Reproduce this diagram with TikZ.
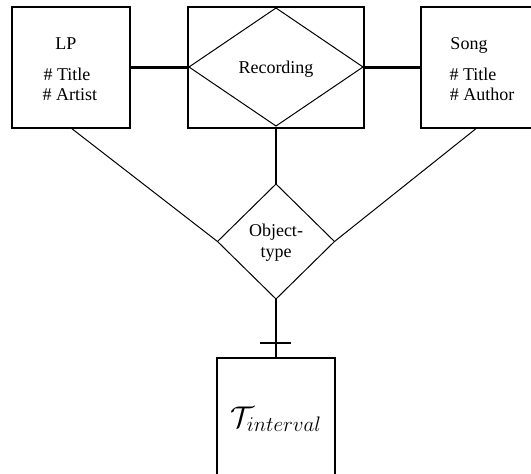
\RequirePackage{fix-cm}
\documentclass[tikz,border=0pt]{standalone}
\usepackage{fontspec}
\setmainfont{Liberation Serif}
\usetikzlibrary{shapes.geometric,calc}
\begin{document}
\begin{tikzpicture}[x=1pt,y=-1pt,
  box/.style={draw, line width=2.4pt, rectangle, inner sep=0pt, outer sep=0pt},
  dia/.style={draw, diamond, line width=1pt, inner sep=0pt, outer sep=0pt},
  txt/.style={font=\fontsize{18}{22}\selectfont, inner sep=0pt, anchor=base},
  heavy/.style={line width=2.4pt},
  mid/.style={line width=1.8pt},
  thin/.style={line width=1pt}]
\useasboundingbox (0,0) rectangle (531,474);
\clip (0,0) rectangle (531,474);
% boxes
\node[box, minimum width=118pt, minimum height=121pt] (lp) at (71,67.5) {};
\node[box, minimum width=176pt, minimum height=121pt] (recbox) at (276,67.5) {};
\node[dia, minimum width=174pt, minimum height=118pt] (recd) at (276,67) {};
\node[box, minimum width=124pt, minimum height=121pt] (song) at (483,67.5) {};
\node[dia, minimum width=117pt, minimum height=115pt] (obj) at (276,241.5) {};
\node[box, minimum width=118pt, minimum height=132pt] (tbox) at (276,424) {};
% texts
\node[txt] (lpname) at (66,49) {LP};
\node[txt] (lpt) at (67,80) {\# Title};
\node[txt] (lpa) at (70,100) {\# Artist};
\node[txt] (recname) at (276,73) {Recording};
\node[txt] (songname) at (469,49) {Song};
\node[txt] (songt) at (473,80) {\# Title};
\node[txt] (songa) at (482,100) {\# Author};
\node[txt] (objt1) at (276,236) {Object-};
\node[txt] (objt2) at (276,257) {type};
\node[inner sep=0pt, anchor=base] (tname) at (276,427) {\fontsize{30}{36}\selectfont $\mathcal{T}_{interval}$};
% connectors
\draw[heavy] (lp.east) -- (recbox.west);
\draw[heavy] (recbox.east) -- (song.west);
\draw[mid] (recbox.south) -- (obj.north);
\draw[thin] (lp.south) -- (obj.west);
\draw[thin] ($(song.south west)!0.45!(song.south east)$) -- (obj.east);
\draw[mid] (obj.south) -- (tbox.north);
\coordinate (barl) at (260,343);
\coordinate (barr) at (291,343);
\draw[mid] (barl) -- (barr);
\end{tikzpicture}
\end{document}
